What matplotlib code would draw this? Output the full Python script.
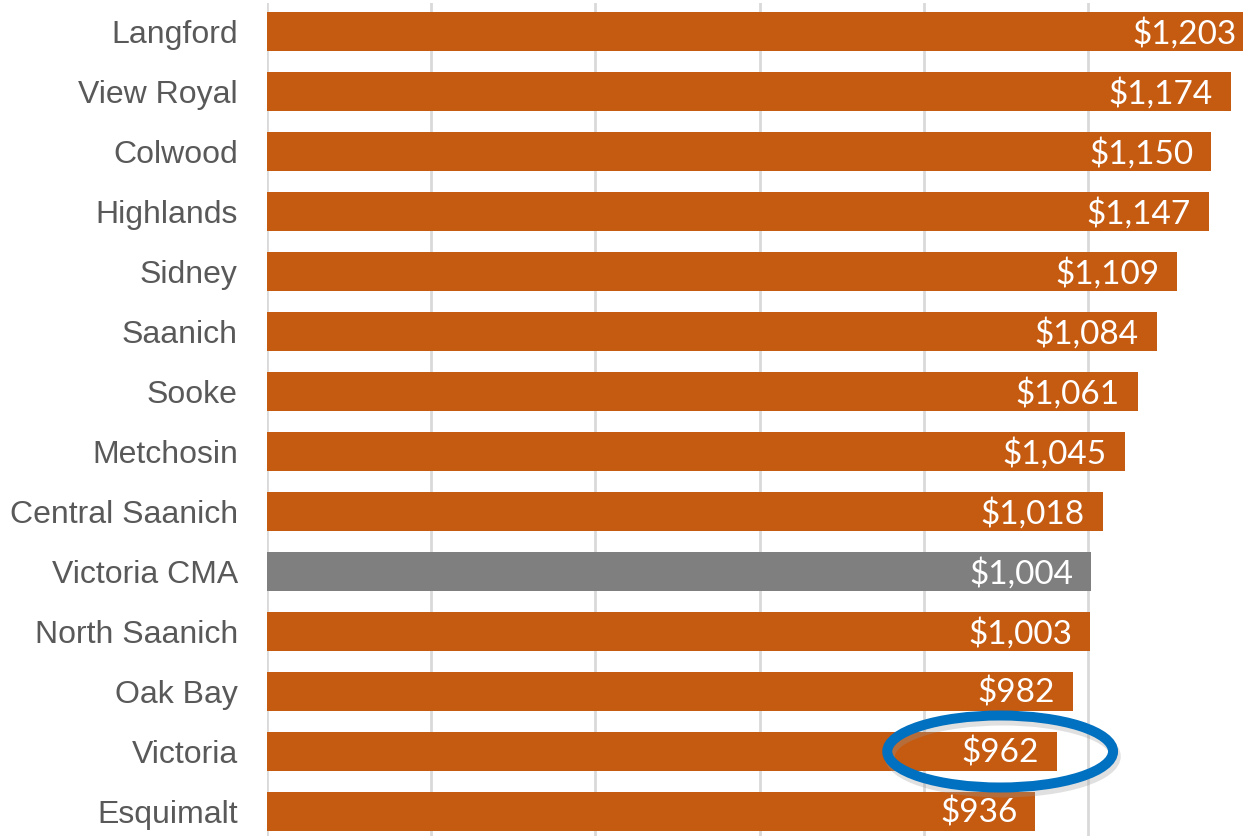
import matplotlib.pyplot as plt
from matplotlib.patches import Ellipse

# -----------------------------
# Data
# -----------------------------
places = ["Langford", "View Royal", "Colwood", "Highlands", "Sidney", "Saanich",
          "Sooke", "Metchosin", "Central Saanich", "Victoria CMA", "North Saanich",
          "Oak Bay", "Victoria", "Esquimalt"]
rents = [1203, 1174, 1150, 1147, 1109, 1084, 1061, 1045, 1018, 1004, 1003, 982, 962, 936]
highlight = "Victoria CMA"
circled = "Victoria"

ORANGE = "#C55A11"
GREY = "#7F7F7F"

W, H = 1243, 836
fig = plt.figure(figsize=(W / 100, H / 100), dpi=100)
left = 267 / W
ax = fig.add_axes([left, 0, 1 - left, 833 / H])

ypos = list(range(len(places)))
colors = [GREY if p == highlight else ORANGE for p in places]
ax.barh(ypos, rents, height=0.65, color=colors, zorder=2)

# scale: ~0.821 px per dollar, right edge cuts Langford
ax.set_xlim(0, (W - 267) / 0.821)
ax.set_ylim(len(places) - 1 + 24.5 / 60, -28.5 / 60)

ax.set_xticks([0, 200, 400, 600, 800, 1000])
ax.xaxis.grid(True, color="#D9D9D9", linewidth=2, zorder=0)
ax.tick_params(axis="x", length=0, labelbottom=False)
ax.tick_params(axis="y", length=0, pad=21)
ax.set_yticks(ypos)
ax.set_yticklabels(places, fontsize=23, color="#595959", family="Liberation Sans")
for s in ax.spines.values():
    s.set_visible(False)

# labels inside bars (right aligned near the true bar end, even if cut off)
for y, v in zip(ypos, rents):
    ax.text(v - 22, y + 0.03, f"${v:,}", ha="right", va="center", color="white",
            fontsize=24, family="Lato", zorder=3, clip_on=False)

# blue ellipse around Victoria
iy = places.index(circled)
ax.add_patch(Ellipse((896, iy + 0.08), 275, 1.2, fill=False, edgecolor="#999999",
                     linewidth=7.5, alpha=0.3, zorder=3))
ax.add_patch(Ellipse((893, iy), 275, 1.2, fill=False, edgecolor="#0070C0",
                     linewidth=7.2, zorder=4))

fig.savefig("out.png", dpi=100)
